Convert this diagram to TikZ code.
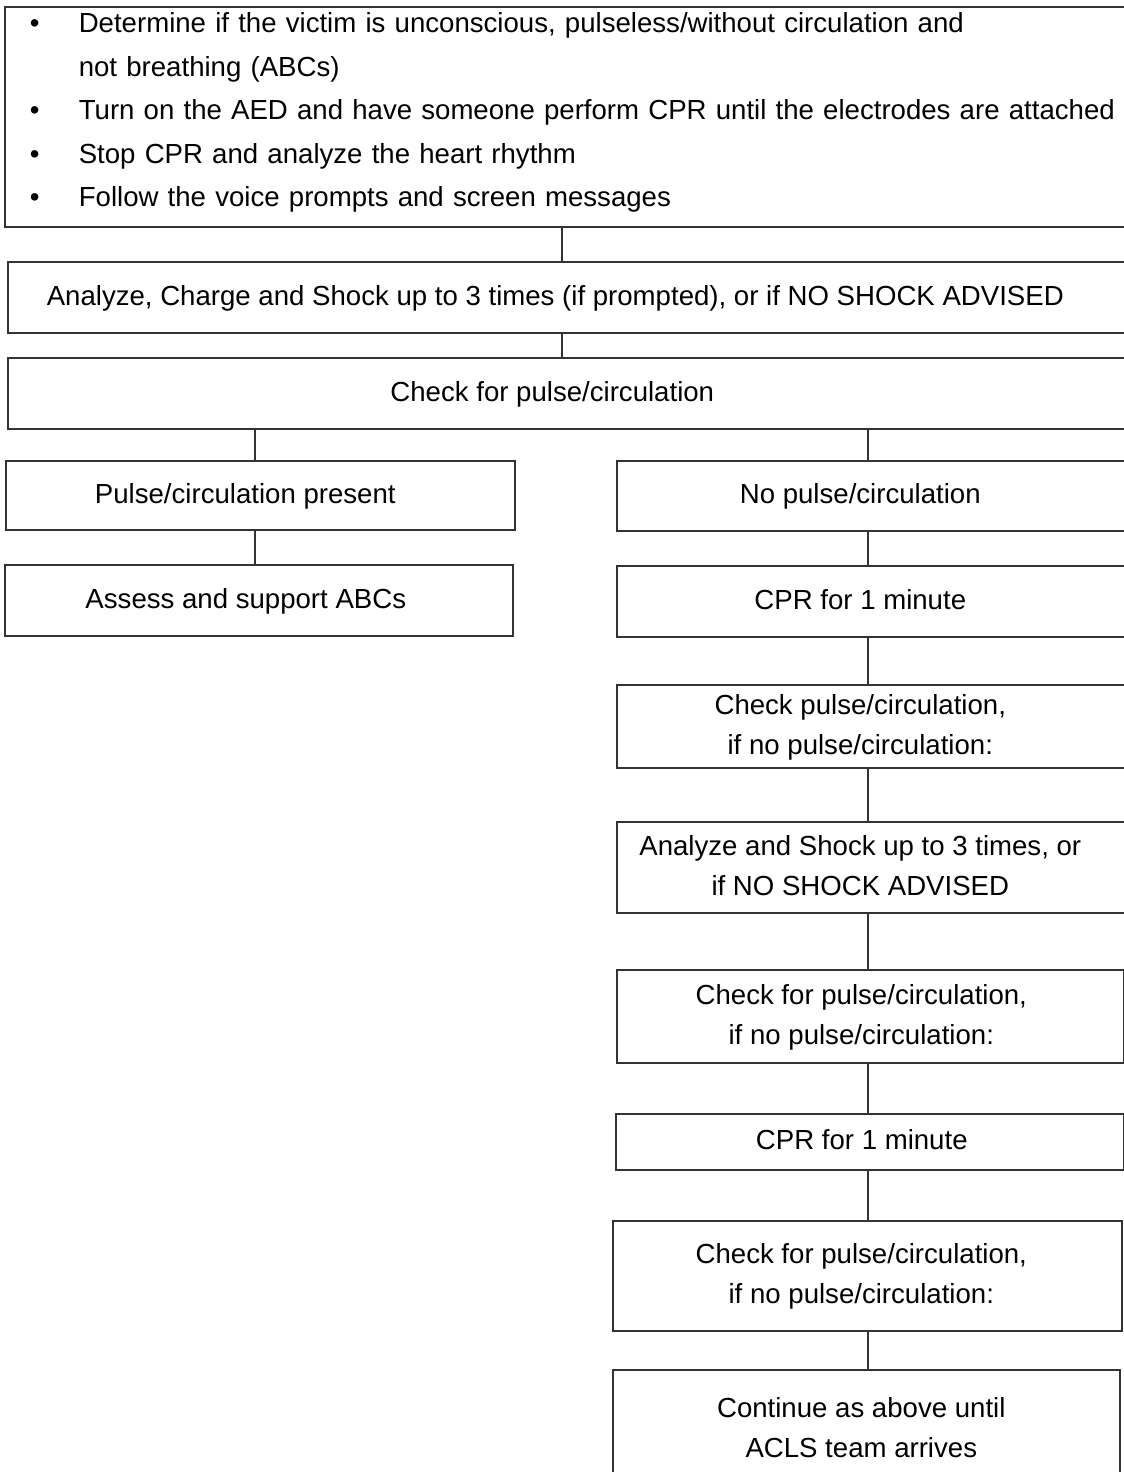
\documentclass[tikz,border=0pt]{standalone}
\usepackage{fontspec}
\setmainfont{Liberation Sans}

% centred lines, pushed left by half the given space
\newcommand{\boxtext}[2]{\begin{tabular}{@{}c@{}}#2\end{tabular}\hspace*{#1}}

\tikzset{
  box/.style={draw=black!80, line width=0.8pt, inner sep=0pt, anchor=north west,
    font=\fontsize{13.8}{20}\selectfont},
  link/.style={draw=black!80, line width=0.8pt},
}

\begin{document}
\begin{tikzpicture}[x=0.5pt,y=-0.5pt]
  \useasboundingbox (0,0) rectangle (1124,1472);
  % columns of the connectors
  \coordinate (mid) at (562,0);
  \coordinate (lcol) at (255,0);
  \coordinate (rcol) at (868,0);

  % first steps
  \node[box, align=left, text width=560pt, inner xsep=12.5pt, minimum height=110pt,
    font=\fontsize{13.8}{21.75}\selectfont] (steps) at (4,6) {%
    \makebox[24.5pt][l]{\textbullet}Determine if the victim is unconscious, pulseless/without circulation and\\
    \hspace*{24.5pt}not breathing (ABCs)\\
    \makebox[24.5pt][l]{\textbullet}Turn on the AED and have someone perform CPR until the electrodes are attached\\
    \makebox[24.5pt][l]{\textbullet}Stop CPR and analyze the heart rhythm\\
    \makebox[24.5pt][l]{\textbullet}Follow the voice prompts and screen messages\rule[-7pt]{0pt}{0pt}};

  \node[box, minimum width=559.5pt, minimum height=35.5pt] (analyze) at (7,261)
    {\boxtext{12pt}{Analyze, Charge and Shock up to 3 times (if prompted), or if NO SHOCK ADVISED}};
  \node[box, minimum width=559.5pt, minimum height=35.5pt] (check) at (7,357)
    {\boxtext{15pt}{Check for pulse/circulation}};

  % left branch
  \node[box, minimum width=254.5pt, minimum height=34.5pt] (present) at (5,460)
    {\boxtext{15pt}{Pulse/circulation present}};
  \node[box, minimum width=254pt, minimum height=35.5pt] (assess) at (4,564)
    {\boxtext{13pt}{Assess and support ABCs}};

  % right branch
  \node[box, minimum width=255.5pt, minimum height=35pt] (nopulse) at (616,460)
    {\boxtext{12pt}{No pulse/circulation}};
  \node[box, minimum width=255.5pt, minimum height=35.5pt] (cpra) at (616,565)
    {\boxtext{12pt}{CPR for 1 minute}};
  \node[box, minimum width=255.5pt, minimum height=41.5pt] (checka) at (616,684)
    {\boxtext{12pt}{Check pulse/circulation,\\ if no pulse/circulation:}};
  \node[box, minimum width=255.5pt, minimum height=45.5pt] (shock) at (616,821)
    {\boxtext{12pt}{Analyze and Shock up to 3 times, or\\ if NO SHOCK ADVISED}};
  \node[box, minimum width=253.5pt, minimum height=46.5pt] (checkb) at (616,969)
    {\boxtext{9pt}{Check for pulse/circulation,\\ if no pulse/circulation:}};
  \node[box, minimum width=254pt, minimum height=28pt] (cprb) at (615,1113)
    {\boxtext{8pt}{CPR for 1 minute}};
  \node[box, minimum width=254.5pt, minimum height=55pt] (checkc) at (612,1220)
    {\boxtext{6pt}{Check for pulse/circulation,\\ if no pulse/circulation:}};
  \node[box, minimum width=253.5pt, minimum height=60pt] (cont) at (612,1369)
    {\boxtext{5pt}{Continue as above until\\ ACLS team arrives}};

  \draw[link] (steps.south -| mid) -- (analyze.north -| mid);
  \draw[link] (analyze.south -| mid) -- (check.north -| mid);
  \draw[link] (check.south -| lcol) -- (present.north -| lcol);
  \draw[link] (present.south -| lcol) -- (assess.north -| lcol);
  \draw[link] (check.south -| rcol) -- (nopulse.north -| rcol);
  \draw[link] (nopulse.south -| rcol) -- (cpra.north -| rcol);
  \draw[link] (cpra.south -| rcol) -- (checka.north -| rcol);
  \draw[link] (checka.south -| rcol) -- (shock.north -| rcol);
  \draw[link] (shock.south -| rcol) -- (checkb.north -| rcol);
  \draw[link] (checkb.south -| rcol) -- (cprb.north -| rcol);
  \draw[link] (cprb.south -| rcol) -- (checkc.north -| rcol);
  \draw[link] (checkc.south -| rcol) -- (cont.north -| rcol);
\end{tikzpicture}
\end{document}
